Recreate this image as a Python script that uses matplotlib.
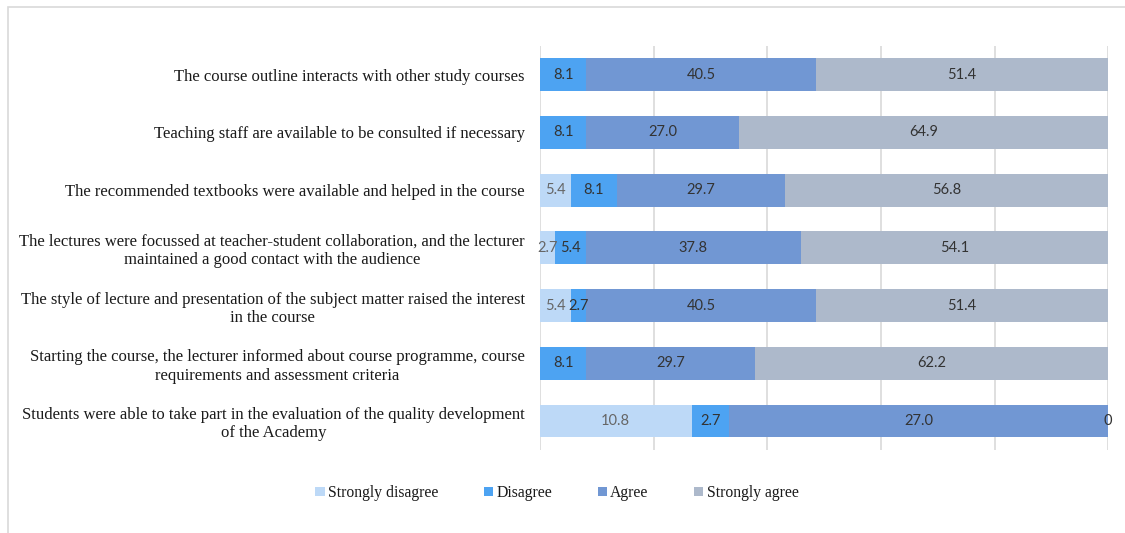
import numpy as np
import matplotlib.pyplot as plt
from matplotlib.patches import Rectangle

questions = [
    "The course outline interacts with other study courses",
    "Teaching staff are available to be consulted if necessary",
    "The recommended textbooks were available and helped in the course",
    "The lectures were focussed at teacher-student collaboration, and the lecturer\nmaintained a good contact with the audience",
    "The style of lecture and presentation of the subject matter raised the interest\nin the course",
    "Starting the course, the lecturer informed about course programme, course\nrequirements and assessment criteria",
    "Students were able to take part in the evaluation of the quality development\nof the Academy",
]
answers = ["Strongly disagree", "Disagree", "Agree", "Strongly agree"]

# percentages per answer, nan = no answer given
strongly_disagree = [np.nan, np.nan, 5.4, 2.7, 5.4, np.nan, 10.8]
disagree = [8.1, 8.1, 8.1, 5.4, 2.7, 8.1, 2.7]
agree = [40.5, 27.0, 29.7, 37.8, 40.5, 29.7, 27.0]
strongly_agree = [51.4, 64.9, 56.8, 54.1, 51.4, 62.2, 0]

colors = ["#bdd9f7", "#4da3f2", "#7197d3", "#adb9cb"]
label_colors = ["#666666", "#333333", "#333333", "#333333"]

series = np.array([strongly_disagree, disagree, agree, strongly_agree])
filled = np.nan_to_num(series)
totals = filled.sum(axis=0)
shares = filled / totals * 100  # 100% stacked

plt.rcParams['font.family'] = ['Liberation Serif', 'DejaVu Serif']
fig = plt.figure(figsize=(11.25, 5.33), dpi=100)
ax = fig.add_axes([0.48, 0.156, 0.505, 0.758])

y = np.arange(len(questions))
left = np.zeros(len(questions))
for k in range(len(answers)):
    bars = ax.barh(y, shares[k], left=left, height=0.57, color=colors[k],
                   label=answers[k], zorder=2)
    for i in range(len(questions)):
        v = series[k][i]
        if np.isnan(v):
            continue
        txt = "0" if v == 0 else f"{v:.1f}"
        ax.text(left[i] + shares[k][i] / 2, y[i], txt, ha='center', va='center',
                fontsize=10.5, family='Lato', color=label_colors[k], zorder=3)
    left += shares[k]

ax.set_xlim(0, 100)
ax.set_ylim(len(questions) - 0.5, -0.5)
ax.set_xticks(np.arange(0, 101, 20))
ax.xaxis.grid(True, color='#d9d9d9', linewidth=1.2, zorder=0)
ax.tick_params(axis='x', length=0, labelbottom=False)
ax.tick_params(axis='y', length=0, pad=11)
ax.set_yticks(y)
ax.set_yticklabels(questions, fontsize=12, multialignment='center', color='#1a1a1a')
for s in ax.spines.values():
    s.set_visible(False)

leg = fig.legend(loc='center', bbox_to_anchor=(0.495, 0.075), ncol=4, frameon=False,
                 fontsize=11.3, handlelength=0.6, handleheight=0.6, handletextpad=0.2,
                 columnspacing=2.9)
for t in leg.get_texts():
    t.set_color('#1a1a1a')

# light frame round the chart area
fig.patches.append(Rectangle((8 / 1125, -0.05), 1.2, 1 - 7 / 533 + 0.05,
                             transform=fig.transFigure, fill=False,
                             edgecolor='#d9d9d9', linewidth=1.2))

fig.savefig("out.png", dpi=100)
